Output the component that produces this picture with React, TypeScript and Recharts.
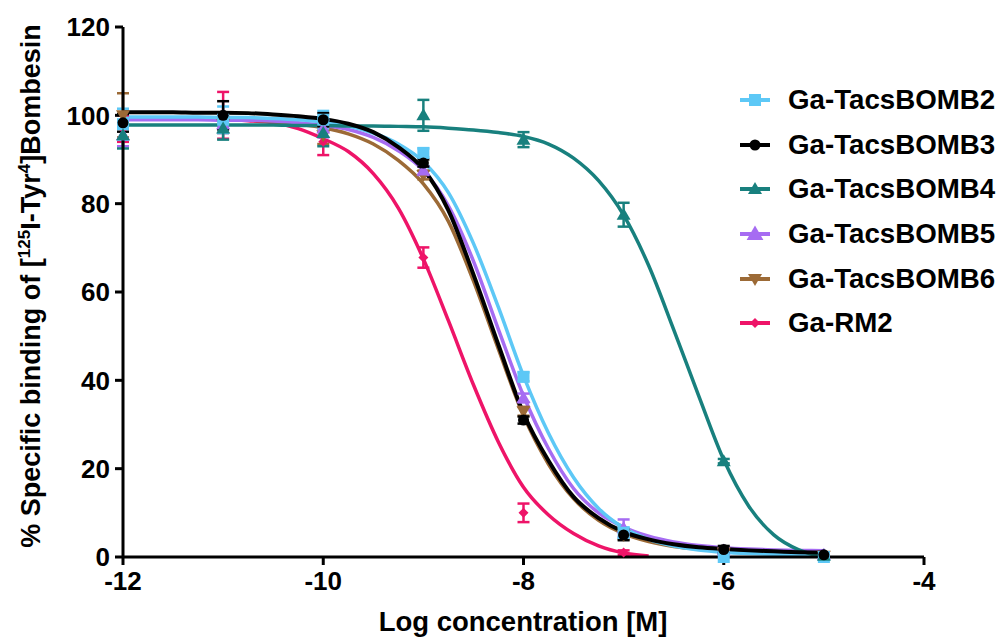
import React from 'react';
import { ComposedChart, Line, Scatter, XAxis, YAxis, ErrorBar, Legend } from 'recharts';

const FONT = '"Liberation Sans", Arial, Helvetica, sans-serif';

// fitted curves, every 0.25 log units
const curveX = [
  -12, -11.75, -11.5, -11.25, -11, -10.75, -10.5, -10.25, -10, -9.75, -9.5, -9.25, -9, -8.75,
  -8.5, -8.25, -8, -7.75, -7.5, -7.25, -7, -6.75, -6.5, -6.25, -6, -5.75, -5.5, -5.25, -5,
];
const bomb2Curve = [
  99.6, 99.6, 99.6, 99.6, 99.5, 99.5, 99.3, 99.0, 98.5, 97.6, 96.0, 93.5, 89.5, 82.5,
  71, 56.5, 41, 28, 18, 11, 6.6, 4.0, 2.5, 1.6, 1.1, 0.8, 0.6, 0.5, 0.4,
];
const bomb3Curve = [
  100.7, 100.7, 100.7, 100.6, 100.6, 100.5, 100.2, 99.8, 99.2, 98.1, 96.2, 92.8, 87.8, 78.5,
  64, 48, 32.5, 21.8, 13.6, 8.8, 5.7, 4.0, 2.9, 2.2, 1.8, 1.5, 1.3, 1.1, 1.0,
];
const bomb4Curve = [
  97.8, 97.8, 97.8, 97.8, 97.8, 97.8, 97.8, 97.7, 97.7, 97.6, 97.6, 97.5, 97.4, 97.1,
  96.7, 96.1, 95.2, 93.5, 90.3, 85.2, 77.4, 66, 51.5, 36.5, 22, 11.5, 5.0, 1.6, 0,
];
const bomb5Curve = [
  99.0, 99.0, 99.0, 99.0, 98.9, 98.9, 98.7, 98.3, 97.7, 96.8, 95.0, 92.0, 87.5, 79.5,
  67, 51.5, 36.5, 24.5, 15.5, 10, 6.8, 4.7, 3.4, 2.6, 2.1, 1.8, 1.6, 1.5, 1.4,
];
const bomb6Curve = [
  99.2, 99.2, 99.2, 99.1, 99.1, 98.9, 98.6, 98.0, 97.2, 95.8, 93.5, 89.8, 84.5, 76,
  62.5, 47, 32, 21, 13.2, 8.3, 5.3, 3.5, 2.4, 1.8, 1.4, 1.2, 1.0, 0.9, 0.9,
];
const rm2Curve = [
  99.3, 99.3, 99.3, 99.2, 99.1, 98.8, 98.3, 97.0, 94.7, 91.8, 86.8, 79, 67.5, 53.5,
  39, 26, 15.8, 9.5, 5.3, 2.5, 0.9, 0.2, null, null, null, null, null, null, null,
];

// measured points (mean and SEM)
const doseX = [-12, -11, -10, -9, -8, -7, -6, -5];
const rm2DoseX = [-12, -11, -10, -9, -8, -7];
const bomb2Mean = [98, 99, 99, 91.5, 40.8, 5.5, 0, 0];
const bomb2Err = [3.5, 3, 2, 1, 1, 1.2, 0, 0];
const bomb3Mean = [98.3, 100, 99, 89.2, 31, 5, 1.7, 0.5];
const bomb3Err = [2, 3.2, 1.5, 0.8, 0.8, 1.2, 0.8, 0];
const bomb4Mean = [95.5, 97, 96, 100, 94.5, 77.5, 21.7, 0.3];
const bomb4Err = [3, 2.5, 3, 3.5, 1.7, 2.7, 0.5, 0];
const bomb5Mean = [95.5, 98, 97, 87.5, 36, 6.5, 1.5, 0.5];
const bomb5Err = [2.5, 2, 2, 1, 1, 2, 0.5, 0];
const bomb6Mean = [100, 98, 95.5, 86.5, 33, 5, 1, 0.3];
const bomb6Err = [5, 2, 2, 1, 1, 1, 0.5, 0];
const rm2Mean = [97, 100, 94, 67.8, 10, 1];
const rm2Err = [3, 5.3, 3, 2.3, 2.1, 0.5];

const xTicks = [-12, -10, -8, -6, -4];
const yTicks = [0, 20, 40, 60, 80, 100, 120];

type Kind = 'square' | 'circle' | 'triUp' | 'triDown' | 'diamond';

interface Series {
  key: string;
  name: string;
  color: string;
  kind: Kind;
  x: number[];
  mean: number[];
  err: number[];
  curve: (number | null)[];
  lineWidth: number;
}

const series: Series[] = [
  { key: 'b2', name: 'Ga-TacsBOMB2', color: '#5DC8F6', kind: 'square', x: doseX, mean: bomb2Mean, err: bomb2Err, curve: bomb2Curve, lineWidth: 3.5 },
  { key: 'b3', name: 'Ga-TacsBOMB3', color: '#000000', kind: 'circle', x: doseX, mean: bomb3Mean, err: bomb3Err, curve: bomb3Curve, lineWidth: 4 },
  { key: 'b4', name: 'Ga-TacsBOMB4', color: '#18807E', kind: 'triUp', x: doseX, mean: bomb4Mean, err: bomb4Err, curve: bomb4Curve, lineWidth: 3.5 },
  { key: 'b5', name: 'Ga-TacsBOMB5', color: '#A66CF2', kind: 'triUp', x: doseX, mean: bomb5Mean, err: bomb5Err, curve: bomb5Curve, lineWidth: 3.5 },
  { key: 'b6', name: 'Ga-TacsBOMB6', color: '#9C6A36', kind: 'triDown', x: doseX, mean: bomb6Mean, err: bomb6Err, curve: bomb6Curve, lineWidth: 3.5 },
  { key: 'rm2', name: 'Ga-RM2', color: '#EE1468', kind: 'diamond', x: rm2DoseX, mean: rm2Mean, err: rm2Err, curve: rm2Curve, lineWidth: 3.5 },
];

// drawing order: black on top
const drawOrder = ['rm2', 'b6', 'b5', 'b2', 'b4', 'b3'];

const Marker = ({ kind, cx, cy, color, s = 1 }: { kind: Kind; cx: number; cy: number; color: string; s?: number }) => {
  if (cx == null || cy == null) return null;
  switch (kind) {
    case 'square':
      return <rect x={cx - 6 * s} y={cy - 6 * s} width={12 * s} height={12 * s} fill={color} />;
    case 'circle':
      return <circle cx={cx} cy={cy} r={5.5 * s} fill={color} />;
    case 'triUp':
      return <polygon points={`${cx},${cy - 7 * s} ${cx + 7 * s},${cy + 5 * s} ${cx - 7 * s},${cy + 5 * s}`} fill={color} />;
    case 'triDown':
      return <polygon points={`${cx - 7 * s},${cy - 5 * s} ${cx + 7 * s},${cy - 5 * s} ${cx},${cy + 7 * s}`} fill={color} />;
    default:
      return <polygon points={`${cx},${cy - 5 * s} ${cx + 5 * s},${cy} ${cx},${cy + 5 * s} ${cx - 5 * s},${cy}`} fill={color} />;
  }
};

const renderLegend = () => (
  <div style={{ fontFamily: FONT, fontWeight: 700, fontSize: 27.7, color: '#000' }}>
    {series.map((s) => (
      <div key={s.key} style={{ display: 'flex', alignItems: 'center', height: 44.6, whiteSpace: 'nowrap' }}>
        <svg width={44} height={24} style={{ marginRight: 7, overflow: 'visible' }}>
          <line x1={3} y1={12} x2={33} y2={12} stroke={s.color} strokeWidth={4} />
          <Marker kind={s.kind} cx={18} cy={12} color={s.color} s={s.key === 'b5' ? 1.2 : 1} />
        </svg>
        <span>{s.name}</span>
      </div>
    ))}
  </div>
);

const renderYLabel = () => (
  <text
    x={40}
    y={286}
    transform="rotate(-90, 40, 286)"
    textAnchor="middle"
    fontFamily={FONT}
    fontSize={27}
    fontWeight={700}
    fill="#000"
  >
    % Specific binding of [<tspan dy={-10} fontSize={17}>125</tspan>
    <tspan dy={10}>I-Tyr</tspan>
    <tspan dy={-10} fontSize={17}>4</tspan>
    <tspan dy={10}>]Bombesin</tspan>
  </text>
);

const renderXLabel = () => (
  <text x={523} y={631} textAnchor="middle" fontFamily={FONT} fontSize={27.5} fontWeight={700} fill="#000">
    Log concentration [M]
  </text>
);

const tickStyle = { fontSize: 26, fontWeight: 700, fill: '#000', fontFamily: FONT };
const axisStroke = { stroke: '#000', strokeWidth: 3 };

export default function App() {
  const byKey = (k: string) => series.find((s) => s.key === k)!;
  const ordered = drawOrder.map(byKey);

  return (
    <div style={{ position: 'absolute', left: 0, top: 0, width: 1000, height: 639, background: '#fff' }}>
      <ComposedChart
        width={1000}
        height={639}
        margin={{ top: 27, right: 76, bottom: 0, left: 0 }}
        style={{ fontFamily: FONT }}
      >
        <XAxis
          type="number"
          dataKey="x"
          domain={[-12, -4]}
          ticks={xTicks}
          height={82}
          tickSize={8}
          tickMargin={7}
          tick={tickStyle}
          axisLine={axisStroke}
          tickLine={axisStroke}
          label={renderXLabel}
        />
        <YAxis
          type="number"
          dataKey="y"
          domain={[0, 120]}
          ticks={yTicks}
          width={123}
          tickSize={8}
          tickMargin={5}
          tick={tickStyle}
          axisLine={axisStroke}
          tickLine={axisStroke}
          label={renderYLabel}
        />
        <Legend
          verticalAlign="middle"
          align="center"
          layout="horizontal"
          wrapperStyle={{ left: 737, top: 78, width: 263 }}
          content={renderLegend}
        />
        {ordered.map((s) => (
          <Line
            key={`line-${s.key}`}
            data={curveX.map((x, i) => ({ x, y: s.curve[i] }))}
            dataKey="y"
            type="monotone"
            stroke={s.color}
            strokeWidth={s.lineWidth}
            dot={false}
            activeDot={false}
            legendType="none"
            isAnimationActive={false}
          />
        ))}
        {ordered.map((s) => (
          <Scatter
            key={`pts-${s.key}`}
            data={s.x.map((x, i) => ({ x, y: s.mean[i], e: s.err[i] }))}
            dataKey="y"
            legendType="none"
            isAnimationActive={false}
            shape={(p: any) => <Marker kind={s.kind} cx={p.cx} cy={p.cy} color={s.color} />}
          >
            <ErrorBar dataKey="e" direction="y" width={6} stroke={s.color} strokeWidth={2.5} isAnimationActive={false} />
          </Scatter>
        ))}
      </ComposedChart>
    </div>
  );
}
